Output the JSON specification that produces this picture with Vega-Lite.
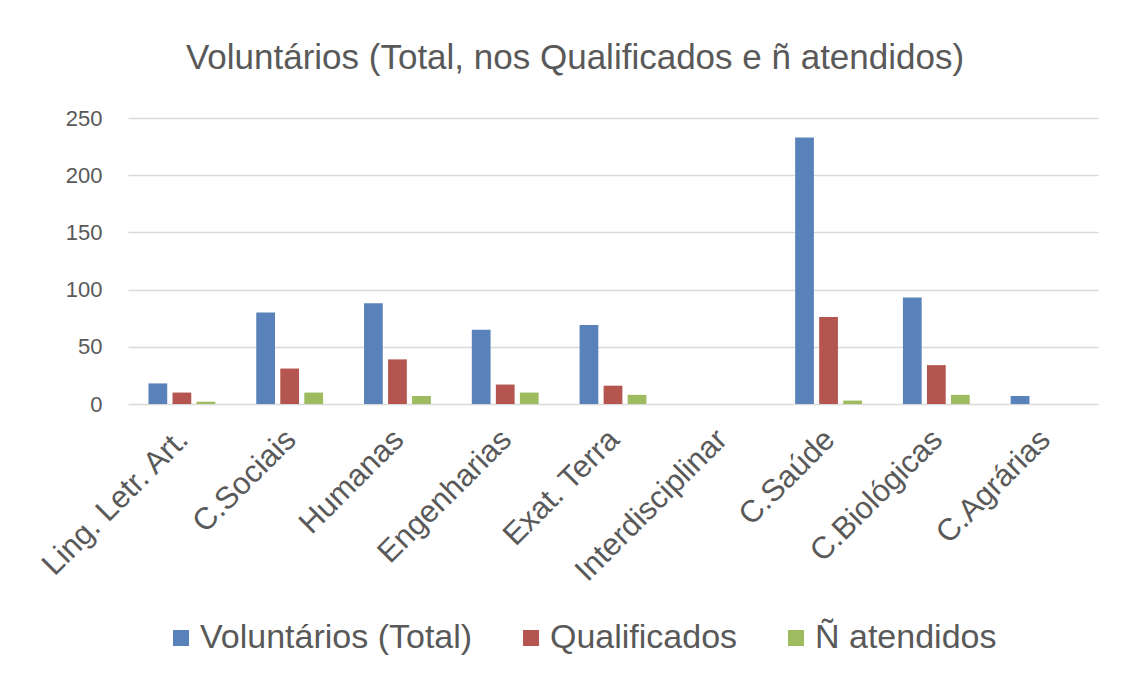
{
  "$schema": "https://vega.github.io/schema/vega-lite/v6.json",
  "width": 970,
  "height": 286,
  "autosize": {"type": "none"},
  "padding": {"left": 128, "top": 118, "right": 32, "bottom": 281},
  "background": "white",
  "title": {
    "text": "Voluntários (Total, nos Qualificados e ñ atendidos)",
    "fontSize": 35,
    "font": "Liberation Sans",
    "fontWeight": "normal",
    "color": "#595959",
    "anchor": "middle",
    "dx": -38,
    "offset": 31
  },
  "data": {
    "values": [
      {"area": "Ling. Letr. Art.", "serie": "Voluntários (Total)", "valor": 18},
      {"area": "Ling. Letr. Art.", "serie": "Qualificados", "valor": 10},
      {"area": "Ling. Letr. Art.", "serie": "Ñ atendidos", "valor": 2},
      {"area": "C.Sociais", "serie": "Voluntários (Total)", "valor": 80},
      {"area": "C.Sociais", "serie": "Qualificados", "valor": 31},
      {"area": "C.Sociais", "serie": "Ñ atendidos", "valor": 10},
      {"area": "Humanas", "serie": "Voluntários (Total)", "valor": 88},
      {"area": "Humanas", "serie": "Qualificados", "valor": 39},
      {"area": "Humanas", "serie": "Ñ atendidos", "valor": 7},
      {"area": "Engenharias", "serie": "Voluntários (Total)", "valor": 65},
      {"area": "Engenharias", "serie": "Qualificados", "valor": 17},
      {"area": "Engenharias", "serie": "Ñ atendidos", "valor": 10},
      {"area": "Exat. Terra", "serie": "Voluntários (Total)", "valor": 69},
      {"area": "Exat. Terra", "serie": "Qualificados", "valor": 16},
      {"area": "Exat. Terra", "serie": "Ñ atendidos", "valor": 8},
      {"area": "Interdisciplinar", "serie": "Voluntários (Total)", "valor": 0},
      {"area": "Interdisciplinar", "serie": "Qualificados", "valor": 0},
      {"area": "Interdisciplinar", "serie": "Ñ atendidos", "valor": 0},
      {"area": "C.Saúde", "serie": "Voluntários (Total)", "valor": 233},
      {"area": "C.Saúde", "serie": "Qualificados", "valor": 76},
      {"area": "C.Saúde", "serie": "Ñ atendidos", "valor": 3},
      {"area": "C.Biológicas", "serie": "Voluntários (Total)", "valor": 93},
      {"area": "C.Biológicas", "serie": "Qualificados", "valor": 34},
      {"area": "C.Biológicas", "serie": "Ñ atendidos", "valor": 8},
      {"area": "C.Agrárias", "serie": "Voluntários (Total)", "valor": 7},
      {"area": "C.Agrárias", "serie": "Qualificados", "valor": 0},
      {"area": "C.Agrárias", "serie": "Ñ atendidos", "valor": 0}
    ]
  },
  "mark": {"type": "bar"},
  "encoding": {
    "x": {
      "field": "area",
      "type": "nominal",
      "sort": ["Ling. Letr. Art.", "C.Sociais", "Humanas", "Engenharias", "Exat. Terra", "Interdisciplinar", "C.Saúde", "C.Biológicas", "C.Agrárias"],
      "scale": {"paddingInner": 0.38, "paddingOuter": 0.19},
      "axis": {
        "title": null,
        "labelAngle": -45,
        "labelFontSize": 31,
        "labelColor": "#595959",
        "labelPadding": 20,
        "labelOffset": -9,
        "labelLimit": 500,
        "domain": false,
        "ticks": false,
        "labelFont": "Liberation Sans"
      }
    },
    "xOffset": {
      "field": "serie",
      "type": "nominal",
      "sort": ["Voluntários (Total)", "Qualificados", "Ñ atendidos"],
      "scale": {"paddingInner": 0.22, "paddingOuter": 0}
    },
    "y": {
      "field": "valor",
      "type": "quantitative",
      "scale": {"domain": [0, 250]},
      "axis": {
        "values": [0, 50, 100, 150, 200, 250],
        "title": null,
        "grid": true,
        "gridColor": "#d9d9d9",
        "gridWidth": 1.5,
        "domain": false,
        "ticks": false,
        "labelFontSize": 22,
        "labelPadding": 26,
        "labelColor": "#595959",
        "labelFont": "Liberation Sans"
      }
    },
    "color": {
      "field": "serie",
      "type": "nominal",
      "scale": {
        "domain": ["Voluntários (Total)", "Qualificados", "Ñ atendidos"],
        "range": ["#5A82BA", "#B4554F", "#9FBB5F"]
      },
      "legend": {
        "orient": "none",
        "legendX": 36,
        "legendY": 503,
        "direction": "horizontal",
        "title": null,
        "symbolType": "square",
        "symbolSize": 256,
        "symbolStrokeWidth": 0,
        "labelFontSize": 34,
        "labelColor": "#595959",
        "labelFont": "Liberation Sans",
        "labelOffset": 2,
        "columnPadding": 41,
        "labelLimit": 500
      }
    }
  },
  "config": {"view": {"stroke": null}, "font": "Liberation Sans"}
}
